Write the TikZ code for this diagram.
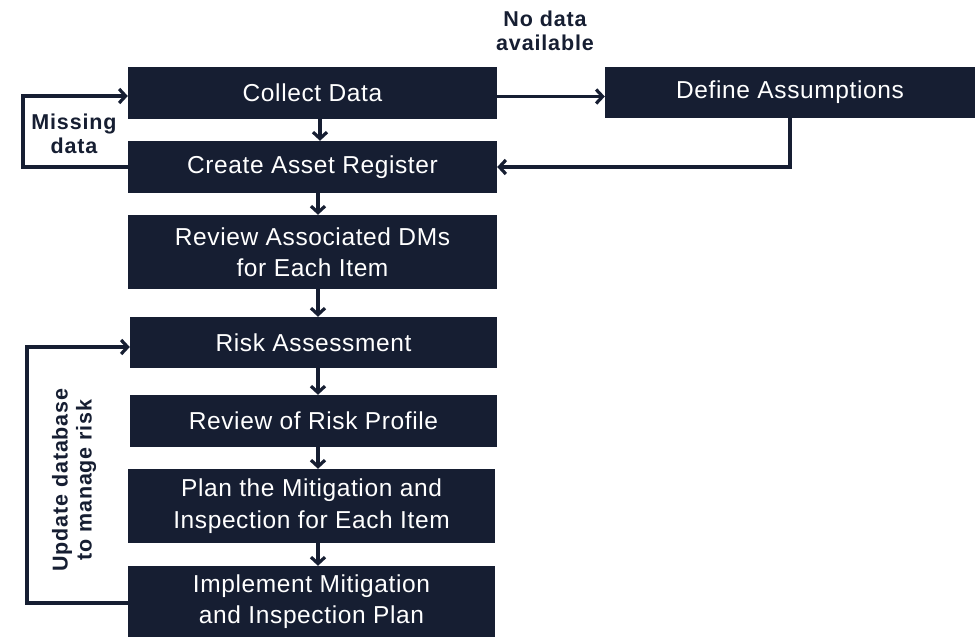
\documentclass[tikz,border=0pt]{standalone}
\usepackage{fontspec}
\setmainfont{Liberation Sans}
\usetikzlibrary{arrows.meta}
\definecolor{navy}{RGB}{22,30,50}
\begin{document}
\begin{tikzpicture}[x=1pt,y=-1pt,
  box/.style={fill=navy,text=white,inner sep=0pt,align=center,
    minimum width=369pt,minimum height=52pt,
    font=\fontsize{24.5}{31.5}\selectfont\addfontfeature{LetterSpace=2.5}},
  arr/.style={draw=navy,line width=3.4pt,-{Straight Barb[length=6.5pt,width=14pt,line width=3.2pt]}},
  lbl/.style={text=navy,align=center,inner sep=0pt,font=\fontsize{21.5}{24}\selectfont\bfseries\addfontfeature{LetterSpace=4}}]
\useasboundingbox (0,0) rectangle (980,638);
\node[box] (collect) at (312.5,93) {Collect Data};
\node[box,minimum width=370pt,minimum height=51pt] (define) at (790,92.5) {Define Assumptions};
\node[box] (create) at (312.5,167) {Create Asset Register};
\node[box,minimum height=74pt] (dms) at (312.5,252) {Review Associated DMs\\for Each Item};
\node[box,minimum width=367pt,minimum height=51pt] (risk) at (313.5,342.5) {Risk Assessment};
\node[box,minimum width=367pt] (profile) at (313.5,421) {Review of Risk Profile};
\node[box,minimum width=367pt,minimum height=74pt] (plan) at (311.5,506) {Plan the Mitigation and\\Inspection for Each Item};
\node[box,minimum width=367pt,minimum height=71pt] (impl) at (311.5,601.5) {Implement Mitigation\\and Inspection Plan};

\draw[arr] (collect.south -| 320,0) -- (create.north -| 320,0);
\draw[arr] (create.south -| 318,0) -- (dms.north -| 318,0);
\draw[arr] (dms.south -| 318,0) -- (risk.north -| 318,0);
\draw[arr] (risk.south -| 318,0) -- (profile.north -| 318,0);
\draw[arr] (profile.south -| 318,0) -- (plan.north -| 318,0);
\draw[arr] (plan.south -| 318,0) -- (impl.north -| 318,0);
\draw[arr] (collect.east |- 0,96.5) -- (define.west |- 0,96.5);
\draw[arr] (define.south) |- (create.east);
\coordinate (m1) at (23,167);
\draw[arr] (create.west) -- (m1) |- (collect.west |- 0,96);
\coordinate (u1) at (27,603);
\draw[arr] (impl.west |- 0,603) -- (u1) |- (risk.west |- 0,347);

\node[lbl] (missing) at (74,134) {Missing\\data};
\node[lbl] (nodata) at (545,31) {No data\\available};
\node[lbl,rotate=90] (update) at (74,480) {Update database\\to manage risk};
\end{tikzpicture}
\end{document}
